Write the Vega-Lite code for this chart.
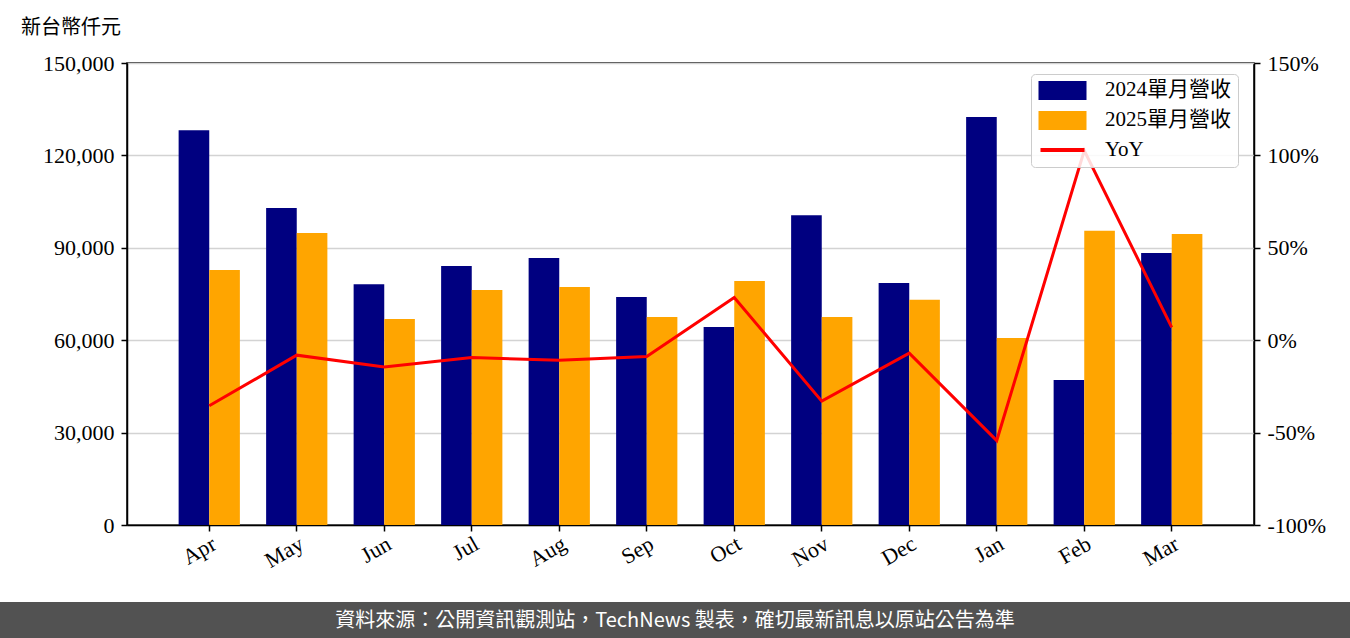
{
  "$schema": "https://vega.github.io/schema/vega-lite/v6.json",
  "padding": {"left": 0, "right": 0, "top": 17, "bottom": 0},
  "spacing": 16,
  "config": {
    "font": "Liberation Serif",
    "view": {"stroke": null},
    "axis": {
      "labelFont": "Liberation Serif, Noto Sans CJK TC",
      "labelColor": "#000000",
      "labelFontSize": 22,
      "labelPadding": 7,
      "tickColor": "#000000",
      "domainColor": "#000000",
      "domainWidth": 1.5,
      "tickWidth": 1.5,
      "tickSize": 6
    }
  },
  "datasets": {
    "rev": [
      {"month": "Apr", "series": "2024單月營收", "value": 128200},
      {"month": "Apr", "series": "2025單月營收", "value": 82800},
      {"month": "May", "series": "2024單月營收", "value": 102900},
      {"month": "May", "series": "2025單月營收", "value": 94800},
      {"month": "Jun", "series": "2024單月營收", "value": 78200},
      {"month": "Jun", "series": "2025單月營收", "value": 66900},
      {"month": "Jul", "series": "2024單月營收", "value": 84100},
      {"month": "Jul", "series": "2025單月營收", "value": 76300},
      {"month": "Aug", "series": "2024單月營收", "value": 86700},
      {"month": "Aug", "series": "2025單月營收", "value": 77300},
      {"month": "Sep", "series": "2024單月營收", "value": 74000},
      {"month": "Sep", "series": "2025單月營收", "value": 67500},
      {"month": "Oct", "series": "2024單月營收", "value": 64300},
      {"month": "Oct", "series": "2025單月營收", "value": 79200},
      {"month": "Nov", "series": "2024單月營收", "value": 100600},
      {"month": "Nov", "series": "2025單月營收", "value": 67500},
      {"month": "Dec", "series": "2024單月營收", "value": 78600},
      {"month": "Dec", "series": "2025單月營收", "value": 73100},
      {"month": "Jan", "series": "2024單月營收", "value": 132500},
      {"month": "Jan", "series": "2025單月營收", "value": 60700},
      {"month": "Feb", "series": "2024單月營收", "value": 47100},
      {"month": "Feb", "series": "2025單月營收", "value": 95500},
      {"month": "Mar", "series": "2024單月營收", "value": 88300},
      {"month": "Mar", "series": "2025單月營收", "value": 94500}
    ],
    "yoy": [
      {"month": "Apr", "series": "YoY", "yoy": -35.5},
      {"month": "May", "series": "YoY", "yoy": -8.1},
      {"month": "Jun", "series": "YoY", "yoy": -14.5},
      {"month": "Jul", "series": "YoY", "yoy": -9.4},
      {"month": "Aug", "series": "YoY", "yoy": -10.9},
      {"month": "Sep", "series": "YoY", "yoy": -8.8},
      {"month": "Oct", "series": "YoY", "yoy": 23.1},
      {"month": "Nov", "series": "YoY", "yoy": -33.0},
      {"month": "Dec", "series": "YoY", "yoy": -7.0},
      {"month": "Jan", "series": "YoY", "yoy": -54.3},
      {"month": "Feb", "series": "YoY", "yoy": 102.6},
      {"month": "Mar", "series": "YoY", "yoy": 6.9}
    ],
    "note": [
      {"note": "資料來源：公開資訊觀測站，TechNews 製表，確切最新訊息以原站公告為準"}
    ],
    "empty": []
  },
  "vconcat": [
    {
      "spacing": 0,
      "hconcat": [
        {
          "width": 1,
          "height": 1,
          "data": {"name": "empty"},
          "mark": {"type": "point", "opacity": 0}
        },
        {
          "width": 1127,
          "height": 462,
          "title": {
            "text": "新台幣仟元",
            "anchor": "start",
            "frame": "group",
            "dx": -106,
            "fontSize": 20,
            "font": "Noto Sans CJK TC",
            "fontWeight": "normal",
            "color": "#000000",
            "offset": 14
          },
          "view": {"stroke": "#000000", "strokeWidth": 1.5},
          "layer": [
            {
              "data": {"name": "rev"},
              "mark": {"type": "bar"},
              "encoding": {
                "x": {
                  "field": "month",
                  "type": "nominal",
                  "sort": ["Apr", "May", "Jun", "Jul", "Aug", "Sep", "Oct", "Nov", "Dec", "Jan", "Feb", "Mar"],
                  "scale": {"paddingInner": 0.3, "paddingOuter": 0.59},
                  "axis": {
                    "title": null,
                    "labelAngle": -30,
                    "labelAlign": "right",
                    "labelBaseline": "top",
                    "labelPadding": 2,
                    "minExtent": 60,
                    "maxExtent": 60
                  }
                },
                "xOffset": {
                  "field": "series",
                  "type": "nominal",
                  "sort": ["2024單月營收", "2025單月營收"],
                  "scale": {"paddingInner": 0, "paddingOuter": 0}
                },
                "y": {
                  "field": "value",
                  "type": "quantitative",
                  "scale": {"domain": [0, 150000]},
                  "axis": {
                    "title": null,
                    "values": [0, 30000, 60000, 90000, 120000, 150000],
                    "format": ",d",
                    "grid": true,
                    "gridColor": "#d3d3d3",
                    "gridWidth": 1.5,
                    "minExtent": 125,
                    "maxExtent": 125
                  }
                },
                "color": {
                  "field": "series",
                  "type": "nominal",
                  "scale": {
                    "domain": ["2024單月營收", "2025單月營收", "YoY"],
                    "range": ["#000080", "#FFA500", "#FF0000"]
                  },
                  "legend": {
                    "title": null,
                    "orient": "none",
                    "legendX": 1031,
                    "legendY": 11,
                    "fillColor": "rgba(255,255,255,0.85)",
                    "strokeColor": "#cccccc",
                    "cornerRadius": 4,
                    "padding": 7,
                    "labelFontSize": 21,
                    "labelFont": "Liberation Serif, Noto Sans CJK TC",
                    "labelColor": "#000000",
                    "symbolSize": 256,
                    "symbolOffset": 14,
                    "labelOffset": 32,
                    "rowPadding": 9,
                    "clipHeight": 18,
                    "encode": {
                      "symbols": {
                        "update": {
                          "shape": {"signal": "datum.value === 'YoY' ? 'M-2.75,0H2.75' : 'M-2.75,-1H2.75V1H-2.75Z'"},
                          "fill": {"signal": "datum.value === 'YoY' ? 'transparent' : scale('color', datum.value)"},
                          "stroke": {"signal": "datum.value === 'YoY' ? '#FF0000' : 'transparent'"},
                          "strokeWidth": {"value": 4},
                          "opacity": {"value": 1}
                        }
                      }
                    }
                  }
                }
              }
            },
            {
              "data": {"name": "yoy"},
              "mark": {"type": "line", "strokeWidth": 3},
              "encoding": {
                "x": {
                  "field": "month",
                  "type": "nominal",
                  "sort": ["Apr", "May", "Jun", "Jul", "Aug", "Sep", "Oct", "Nov", "Dec", "Jan", "Feb", "Mar"]
                },
                "y": {
                  "field": "yoy",
                  "type": "quantitative",
                  "scale": {"domain": [-100, 150]},
                  "axis": {
                    "orient": "right",
                    "title": null,
                    "values": [-100, -50, 0, 50, 100, 150],
                    "labelExpr": "datum.value + '%'",
                    "grid": false,
                    "minExtent": 97,
                    "maxExtent": 97
                  }
                },
                "color": {"field": "series", "type": "nominal", "legend": null}
              }
            }
          ],
          "resolve": {"scale": {"y": "independent"}}
        }
      ]
    },
    {
      "width": 1350,
      "height": 38,
      "view": {"fill": "#525252", "stroke": null},
      "data": {"name": "note"},
      "mark": {"type": "text", "color": "#ffffff", "font": "Noto Sans CJK TC", "fontSize": 20, "baseline": "middle", "align": "center"},
      "encoding": {"text": {"field": "note", "type": "nominal"}}
    }
  ]
}
